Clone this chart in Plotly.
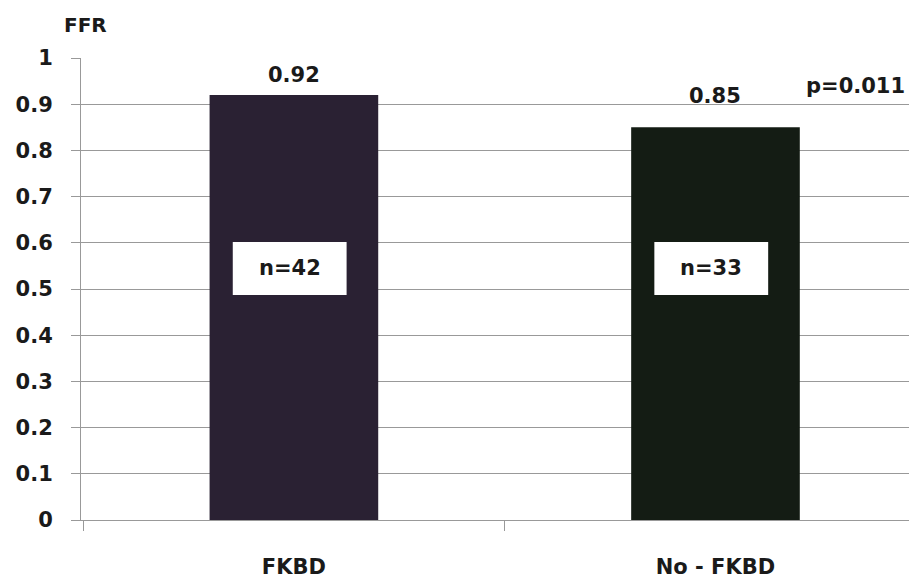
import plotly.graph_objects as go

categories = ["FKBD", "No - FKBD"]
ffr_values = [0.92, 0.85]
value_labels = ["0.92", "0.85"]
n_labels = ["n=42", "n=33"]
bar_colors = ["#2a2133", "#141c14"]
y_ticks = [0, 0.1, 0.2, 0.3, 0.4, 0.5, 0.6, 0.7, 0.8, 0.9, 1]
y_tick_labels = ["0", "0.1", "0.2", "0.3", "0.4", "0.5", "0.6", "0.7", "0.8", "0.9", "1"]
p_text = "p=0.011"
y_title = "FFR"

FONT = "DejaVu Sans"
TXT = "#1a1a1a"
def bold(size):
    return dict(family=FONT, size=size, color=TXT, weight="bold")

fig = go.Figure()
fig.add_trace(go.Bar(
    x=categories, y=ffr_values, marker=dict(color=bar_colors, line=dict(width=0)),
    width=0.4, hoverinfo="x+y",
))

label_shift = [20, 31]
for i, (cat, val, lab) in enumerate(zip(categories, ffr_values, value_labels)):
    fig.add_annotation(x=cat, y=val, text=lab, showarrow=False, yanchor="middle",
                       yshift=label_shift[i], font=bold(21))

# n= boxes inside bars
for i, lab in enumerate(n_labels):
    fig.add_shape(type="rect", xref="x", yref="y",
                  x0=i - 0.145, x1=i + 0.125, y0=0.487, y1=0.602,
                  fillcolor="white", line=dict(width=0))
    fig.add_annotation(x=i - 0.01, y=0.545, text=lab, showarrow=False,
                       font=bold(21))

fig.add_annotation(xref="paper", yref="y", x=0.988, y=0.94, text=p_text,
                   showarrow=False, xanchor="right", yanchor="middle",
                   font=bold(21))
fig.add_annotation(xref="paper", yref="paper", x=-0.023, y=1.071, text=y_title,
                   showarrow=False, xanchor="left", yanchor="middle",
                   font=bold(20))

fig.update_layout(
    width=909, height=571,
    margin=dict(l=73, r=0, t=50, b=59),
    plot_bgcolor="white", paper_bgcolor="white",
    showlegend=False, bargap=0.6,
    font=dict(family=FONT, color=TXT),
)
fig.update_xaxes(
    type="category", range=[-0.505, 1.478],
    tickson="boundaries", ticks="outside", ticklen=10, tickcolor="#999999",
    showline=True, linecolor="#999999", linewidth=1,
    tickfont=bold(21), ticklabelstandoff=28,
    showgrid=False,
)
fig.update_yaxes(
    range=[0, 1], tickvals=y_ticks, ticktext=y_tick_labels,
    ticks="outside", ticklen=9, tickcolor="#999999",
    showline=True, linecolor="#999999", linewidth=1,
    showgrid=True, gridcolor="#999999", gridwidth=1,
    tickfont=bold(21), ticklabelstandoff=14,
    zeroline=False,
)
fig.write_html("out.html")
